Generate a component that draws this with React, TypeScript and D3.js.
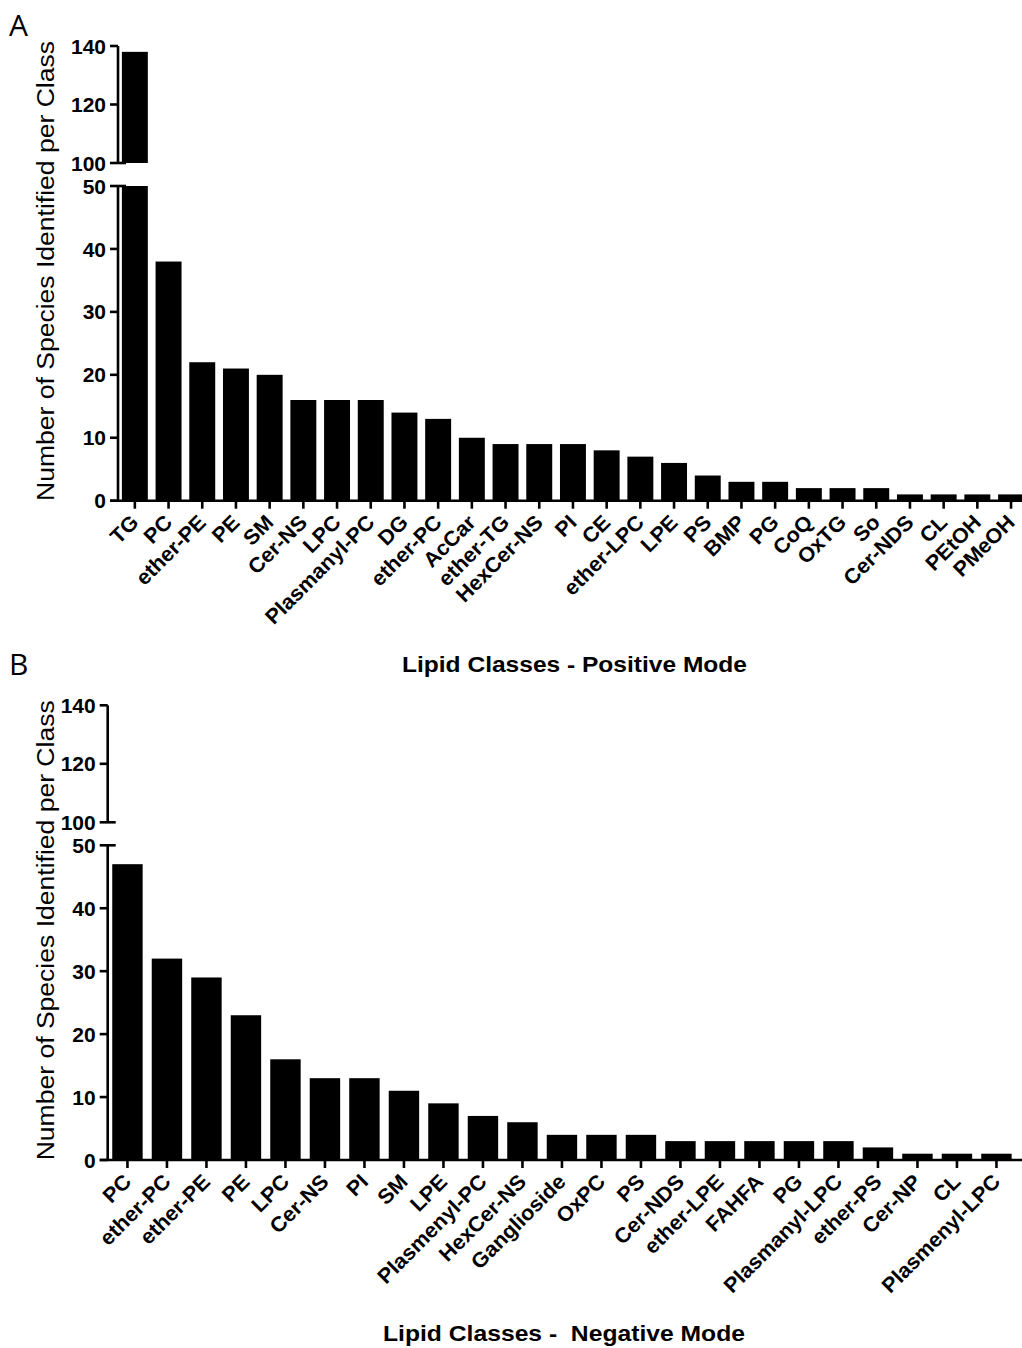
import React from "react";
import * as d3 from "d3";

// Lipid classes detected in positive ion mode, with species counts
const positiveClasses = [
  "TG", "PC", "ether-PE", "PE", "SM", "Cer-NS", "LPC", "Plasmanyl-PC", "DG",
  "ether-PC", "AcCar", "ether-TG", "HexCer-NS", "PI", "CE", "ether-LPC", "LPE",
  "PS", "BMP", "PG", "CoQ", "OxTG", "So", "Cer-NDS", "CL", "PEtOH", "PMeOH",
];
const positiveCounts = [
  138, 38, 22, 21, 20, 16, 16, 16, 14, 13, 10, 9, 9, 9, 8, 7, 6, 4, 3, 3, 2, 2,
  2, 1, 1, 1, 1,
];

// Lipid classes detected in negative ion mode, with species counts
const negativeClasses = [
  "PC", "ether-PC", "ether-PE", "PE", "LPC", "Cer-NS", "PI", "SM", "LPE",
  "Plasmenyl-PC", "HexCer-NS", "Ganglioside", "OxPC", "PS", "Cer-NDS",
  "ether-LPE", "FAHFA", "PG", "Plasmanyl-LPC", "ether-PS", "Cer-NP", "CL",
  "Plasmenyl-LPC",
];
const negativeCounts = [
  47, 32, 29, 23, 16, 13, 13, 11, 9, 7, 6, 4, 4, 4, 3, 3, 3, 3, 3, 2, 1, 1, 1,
];

// Broken y axis: lower segment and upper segment
const lowDomain = [0, 50];
const highDomain = [100, 140];
const lowTicks = [0, 10, 20, 30, 40, 50];
const highTicks = [100, 120, 140];

const FONT = "'Liberation Sans', Arial, Helvetica, sans-serif";
const SW = 2.6;

type PanelProps = {
  letter: string;
  letterY: number;
  classes: string[];
  counts: number[];
  offset: number;
  axisX: number;
  step: number;
  title: string;
  titleX: number;
  titleY: number;
  titleLen: number;
};

function Panel(p: PanelProps) {
  const { classes, counts, offset, axisX, step } = p;
  const yLow = d3.scaleLinear().domain(lowDomain).range([offset + 500.7, offset + 186]);
  const yHigh = d3.scaleLinear().domain(highDomain).range([offset + 163, offset + 46]);
  const x = d3
    .scaleBand<string>()
    .domain(classes)
    .range([axisX, axisX + classes.length * step])
    .paddingInner(0.23)
    .paddingOuter(0.115);
  const baseY = yLow(0);
  const bw = x.bandwidth();

  const tickLabel = (t: number, y: number) => (
    <text
      x={axisX - 12}
      y={y}
      dy="0.36em"
      textAnchor="end"
      fontFamily={FONT}
      fontWeight="bold"
      fontSize={21}
    >
      {t}
    </text>
  );

  return (
    <g>
      <text x={9} y={p.letterY} fontFamily="'Open Sans', 'Liberation Sans', sans-serif" fontSize={30} fill="#000">
        {p.letter}
      </text>

      {/* bars: lower segment clipped at 50, upper segment from 100 */}
      {classes.map((c, i) => {
        const v = counts[i];
        const lowTop = yLow(Math.min(v, lowDomain[1]));
        return (
          <g key={c}>
            <rect x={x(c)} y={lowTop} width={bw} height={baseY - lowTop} fill="#000" />
            {v > highDomain[0] && (
              <rect
                x={x(c)}
                y={yHigh(Math.min(v, highDomain[1]))}
                width={bw}
                height={yHigh(highDomain[0]) - yHigh(Math.min(v, highDomain[1]))}
                fill="#000"
              />
            )}
          </g>
        );
      })}

      {/* y axis, lower segment */}
      <line x1={axisX} x2={axisX} y1={yLow(0)} y2={yLow(50)} stroke="#000" strokeWidth={SW} />
      {lowTicks.map((t) => (
        <g key={"l" + t}>
          <line
            x1={axisX - 8}
            x2={t === lowDomain[1] ? axisX + 8 : axisX}
            y1={yLow(t)}
            y2={yLow(t)}
            stroke="#000"
            strokeWidth={SW}
          />
          {tickLabel(t, yLow(t))}
        </g>
      ))}

      {/* y axis, upper segment */}
      <line x1={axisX} x2={axisX} y1={yHigh(100)} y2={yHigh(140)} stroke="#000" strokeWidth={SW} />
      {highTicks.map((t) => (
        <g key={"h" + t}>
          <line
            x1={axisX - 8}
            x2={t === highDomain[0] ? axisX + 8 : axisX}
            y1={yHigh(t)}
            y2={yHigh(t)}
            stroke="#000"
            strokeWidth={SW}
          />
          {tickLabel(t, yHigh(t))}
        </g>
      ))}

      {/* x axis */}
      <line x1={axisX - 8} x2={1022} y1={baseY} y2={baseY} stroke="#000" strokeWidth={SW} />
      {classes.map((c) => {
        const cx = (x(c) as number) + bw / 2;
        return (
          <g key={"t" + c}>
            <line x1={cx} x2={cx} y1={baseY} y2={baseY + 8} stroke="#000" strokeWidth={SW} />
            <text
              transform={`translate(${cx + 5},${baseY + 23}) rotate(-45) scale(1.03,1)`}
              textAnchor="end"
              fontFamily={FONT}
              fontWeight="bold"
              fontSize={21}
            >
              {c}
            </text>
          </g>
        );
      })}

      {/* axis titles */}
      <text
        transform={`translate(54,${offset + 271}) rotate(-90)`}
        textAnchor="middle"
        fontFamily={FONT}
        fontSize={23.5}
        textLength={460}
        lengthAdjust="spacingAndGlyphs"
      >
        Number of Species Identified per Class
      </text>
      <text
        x={p.titleX}
        y={p.titleY}
        textAnchor="middle"
        fontFamily={FONT}
        fontWeight="bold"
        fontSize={21.5}
        textLength={p.titleLen}
        lengthAdjust="spacingAndGlyphs"
        style={{ whiteSpace: "pre" }}
      >
        {p.title}
      </text>
    </g>
  );
}

export default function App() {
  return (
    <svg
      width={1022}
      height={1348}
      viewBox="0 0 1022 1348"
      style={{ position: "absolute", left: 0, top: 0, background: "#fff" }}
    >
      <rect width={1022} height={1348} fill="#fff" />
      <Panel
        letter="A"
        letterY={36}
        classes={positiveClasses}
        counts={positiveCounts}
        offset={0}
        axisX={118}
        step={33.7}
        title="Lipid Classes - Positive Mode"
        titleX={574.5}
        titleY={672}
        titleLen={345}
      />
      <Panel
        letter="B"
        letterY={675}
        classes={negativeClasses}
        counts={negativeCounts}
        offset={659.3}
        axisX={107.7}
        step={39.5}
        title="Lipid Classes -  Negative Mode"
        titleX={564}
        titleY={1341}
        titleLen={362}
      />
    </svg>
  );
}
